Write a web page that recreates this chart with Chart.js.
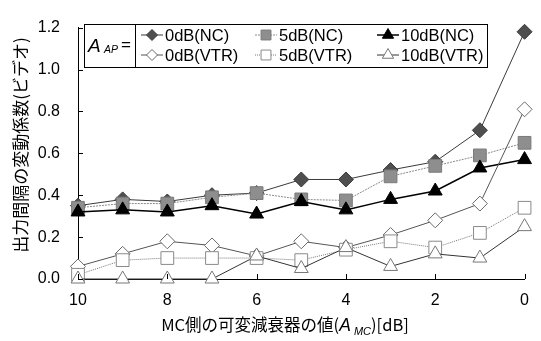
<!DOCTYPE html>
<html>
<head>
<meta charset="utf-8">
<script src="https://cdn.jsdelivr.net/npm/chart.js@4.4.1/dist/chart.umd.min.js"></script>
<style>
  html, body { margin: 0; padding: 0; background: #fff; }
</style>
</head>
<body>
<canvas id="chart" width="541" height="341"></canvas>
<script>
// MC side attenuator value A_MC [dB]
var attenuation = [10, 9, 8, 7, 6, 5, 4, 3, 2, 1, 0];

// coefficient of variation of output interval (video)
var nc0dB   = [0.35, 0.38, 0.37, 0.40, 0.41, 0.475, 0.475, 0.52, 0.56, 0.71, 1.18];
var nc5dB   = [0.34, 0.36, 0.36, 0.39, 0.41, 0.38, 0.375, 0.49, 0.54, 0.59, 0.65];
var nc10dB  = [0.32, 0.33, 0.32, 0.35, 0.31, 0.37, 0.33, 0.38, 0.42, 0.53, 0.57];
var vtr0dB  = [0.06, 0.12, 0.18, 0.16, 0.11, 0.18, 0.15, 0.21, 0.28, 0.36, 0.81];
var vtr5dB  = [0.02, 0.09, 0.10, 0.10, 0.10, 0.09, 0.14, 0.18, 0.15, 0.22, 0.34];
var vtr10dB = [0.0, 0.0, 0.0, 0.0, 0.11, 0.05, 0.15, 0.06, 0.12, 0.10, 0.25];

var seriesNames = ['0dB(NC)', '5dB(NC)', '10dB(NC)', '0dB(VTR)', '5dB(VTR)', '10dB(VTR)'];
var yTickValues = [0, 0.2, 0.4, 0.6, 0.8, 1.0, 1.2];
var xTickValues = [10, 8, 6, 4, 2, 0];

var tickFont = '"Liberation Sans", Arial, sans-serif';
var jpFont = '"Noto Sans CJK JP", sans-serif';

function pts(vals) {
  return vals.map(function (v, i) { return { x: attenuation[i], y: v }; });
}

var styles = [
  { pointStyle: 'rectRot',  radius: 7.5, legR: 5.5, fill: '#4f4f4f', border: '#3a3a3a', line: '#3a3a3a', lw: 1,   dash: [] },
  { pointStyle: 'rect',     radius: 9,   legR: 7,   fill: '#8e8e8e', border: '#7a7a7a', line: '#8a8a8a', lw: 1,   dash: [2, 1] },
  { pointStyle: 'triangle', radius: 8,   legR: 6.5, fill: '#000000', border: '#000000', line: '#000000', lw: 1.5, dash: [] },
  { pointStyle: 'rectRot',  radius: 7.5, legR: 5.5, fill: '#ffffff', border: '#6a6a6a', line: '#555555', lw: 1,   dash: [] },
  { pointStyle: 'rect',     radius: 9,   legR: 7,   fill: '#ffffff', border: '#8a8a8a', line: '#777777', lw: 1,   dash: [1, 1] },
  { pointStyle: 'triangle', radius: 8,   legR: 6.5, fill: '#ffffff', border: '#777777', line: '#333333', lw: 1,   dash: [] }
];
var seriesValues = [nc0dB, nc5dB, nc10dB, vtr0dB, vtr5dB, vtr10dB];

var datasets = seriesValues.map(function (vals, i) {
  var s = styles[i];
  return {
    label: seriesNames[i],
    data: pts(vals),
    showLine: true,
    borderColor: s.line,
    borderWidth: s.lw,
    borderDash: s.dash,
    pointStyle: s.pointStyle,
    pointRadius: s.radius,
    pointBackgroundColor: s.fill,
    pointBorderColor: s.border,
    pointBorderWidth: 1,
    tension: 0,
    clip: false,
    order: 6 - i
  };
});

var decorations = {
  id: 'decorations',
  afterDraw: function (chart) {
    var ctx = chart.ctx, xs = chart.scales.x, ys = chart.scales.y, a = chart.chartArea;
    ctx.save();
    // inward ticks
    ctx.strokeStyle = '#000';
    ctx.lineWidth = 1;
    ctx.beginPath();
    yTickValues.forEach(function (v) {
      var y = Math.round(ys.getPixelForValue(v)) + 0.5;
      ctx.moveTo(a.left, y); ctx.lineTo(a.left + 5, y);
    });
    xTickValues.forEach(function (v) {
      var x = Math.round(xs.getPixelForValue(v)) + 0.5;
      ctx.moveTo(x, a.bottom); ctx.lineTo(x, a.bottom - 5);
    });
    ctx.stroke();

    // y title
    ctx.fillStyle = '#000';
    ctx.save();
    ctx.translate(21, 145);
    ctx.rotate(-Math.PI / 2);
    ctx.font = '17px ' + jpFont;
    ctx.textAlign = 'center';
    ctx.textBaseline = 'middle';
    ctx.fillText('出力間隔の変動係数(ビデオ)', 0, 0);
    ctx.restore();

    // x title with italic subscript
    ctx.textBaseline = 'alphabetic';
    ctx.textAlign = 'left';
    var parts = [
      { t: 'MC側の可変減衰器の値(', f: '16.5px ' + jpFont, dy: 0 },
      { t: 'A', f: 'italic 17.5px ' + tickFont, dy: 0 },
      { t: ' MC', f: 'italic 11px ' + tickFont, dy: 4 },
      { t: ')[dB]', f: '16.5px ' + jpFont, dy: 0 }
    ];
    var total = 0;
    parts.forEach(function (p) { ctx.font = p.f; p.w = ctx.measureText(p.t).width; total += p.w; });
    var x0 = 285 - total / 2, base = 331;
    parts.forEach(function (p) { ctx.font = p.f; ctx.fillText(p.t, x0, base + p.dy); x0 += p.w; });

    // legend
    ctx.fillStyle = '#fff';
    ctx.fillRect(84.5, 24.5, 403, 43);
    ctx.strokeStyle = '#000';
    ctx.lineWidth = 1;
    ctx.strokeRect(84.5, 24.5, 51, 43);
    ctx.strokeRect(135.5, 24.5, 352, 43);
    ctx.fillStyle = '#000';
    ctx.font = 'italic 19px ' + tickFont;
    ctx.fillText('A', 88, 52);
    ctx.font = 'italic 10.5px ' + tickFont;
    ctx.fillText('AP', 104, 53);
    ctx.font = '17px ' + tickFont;
    ctx.fillText('=', 121, 50);

    var colX = [152, 266, 388], rowY = [35, 55];
    seriesNames.forEach(function (name, i) {
      var s = styles[i];
      var cx = colX[i % 3], cy = rowY[Math.floor(i / 3)];
      ctx.strokeStyle = s.line;
      ctx.lineWidth = s.lw;
      ctx.setLineDash(s.dash);
      ctx.beginPath();
      ctx.moveTo(cx - 11, cy); ctx.lineTo(cx + 11, cy);
      ctx.stroke();
      ctx.setLineDash([]);
      ctx.fillStyle = s.fill;
      ctx.strokeStyle = s.border;
      ctx.lineWidth = 1;
      Chart.helpers.drawPoint(ctx, { pointStyle: s.pointStyle, radius: s.legR, borderWidth: 1, rotation: 0 }, cx, cy);
      ctx.fillStyle = '#000';
      ctx.font = '16.5px ' + tickFont;
      ctx.textBaseline = 'middle';
      ctx.fillText(name, cx + 13, cy + 1);
    });
    ctx.restore();
  }
};

new Chart(document.getElementById('chart'), {
  type: 'scatter',
  data: { datasets: datasets },
  options: {
    responsive: false,
    devicePixelRatio: 1,
    animation: false,
    layout: { padding: { top: 13, right: 14, left: 0, bottom: 0 } },
    plugins: { legend: { display: false }, tooltip: { enabled: false } },
    scales: {
      x: {
        type: 'linear',
        reverse: true,
        min: 0,
        max: 10,
        afterFit: function (s) { s.height = 62; },
        afterBuildTicks: function (s) { s.ticks = xTickValues.map(function (v) { return { value: v }; }); },
        ticks: { color: '#000', padding: 12, font: { family: tickFont, size: 16 }, maxRotation: 0 },
        grid: { display: false, drawTicks: false },
        border: { display: true, color: '#000', width: 1 }
      },
      y: {
        min: 0,
        max: 1.2,
        afterFit: function (s) { s.width = 78; },
        afterBuildTicks: function (s) { s.ticks = yTickValues.map(function (v) { return { value: v }; }); },
        ticks: {
          color: '#000', padding: 18, font: { family: tickFont, size: 16 },
          callback: function (v) { return Number(v).toFixed(1); }
        },
        grid: { display: false, drawTicks: false },
        border: { display: true, color: '#000', width: 1 }
      }
    }
  },
  plugins: [decorations]
});
</script>
</body>
</html>
